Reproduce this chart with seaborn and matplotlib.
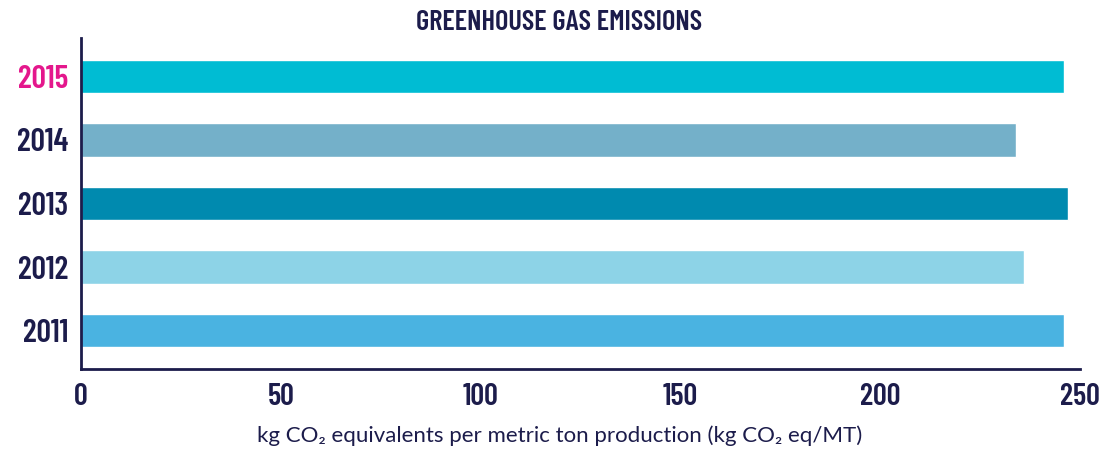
import matplotlib
matplotlib.use("Agg")
import matplotlib.pyplot as plt
import seaborn as sns

# Data
years = ["2015", "2014", "2013", "2012", "2011"]
emissions = [246, 234, 247, 236, 246]
bar_colors = ["#00bcd3", "#74b0c9", "#008aaf", "#8dd3e7", "#4ab3e1"]

NAVY = "#1c1c4b"
PINK = "#e4178c"
COND = ["Barlow Condensed", "Roboto Condensed", "DejaVu Sans"]

sns.set_style("white")
plt.rcParams["font.family"] = ["Lato", "DejaVu Sans"]

fig = plt.figure(figsize=(10.99, 4.53), dpi=100)
ax = fig.add_axes([81 / 1099, 1 - 369 / 453, 999 / 1099, 331 / 453])

sns.barplot(x=emissions, y=years, hue=years, palette=bar_colors,
            orient="h", width=0.52, legend=False, ax=ax, saturation=1)

ax.set_xlim(0, 250)
ax.set_ylim(4.606, -0.606)
ax.set_xticks([0, 50, 100, 150, 200, 250])

for s in ["top", "right"]:
    ax.spines[s].set_visible(False)
for s in ["left", "bottom"]:
    ax.spines[s].set_color(NAVY)
    ax.spines[s].set_linewidth(2)

ax.tick_params(axis="x", direction="in", length=7, width=2, color=NAVY, pad=10)
ax.tick_params(axis="y", length=0, pad=9)

for lab in ax.get_xticklabels():
    lab.set_fontfamily(COND)
    lab.set_fontweight("semibold")
    lab.set_fontsize(22)
    lab.set_color(NAVY)
for lab in ax.get_yticklabels():
    lab.set_fontfamily(COND)
    lab.set_fontweight("semibold")
    lab.set_fontsize(23)
    lab.set_color(PINK if lab.get_text() == "2015" else NAVY)

ax.set_ylabel("")
ax.set_xlabel("kg CO\u2082 equivalents per metric ton production (kg CO\u2082 eq/MT)",
              fontsize=16, color=NAVY)
ax.xaxis.set_label_coords(0.4795, -0.17)

fig.text(559 / 1099, 1 - 22 / 453, "GREENHOUSE GAS EMISSIONS",
         ha="center", va="center", fontsize=20.5, fontweight="semibold",
         color=NAVY, family=COND)

fig.savefig("out.png", dpi=100)
